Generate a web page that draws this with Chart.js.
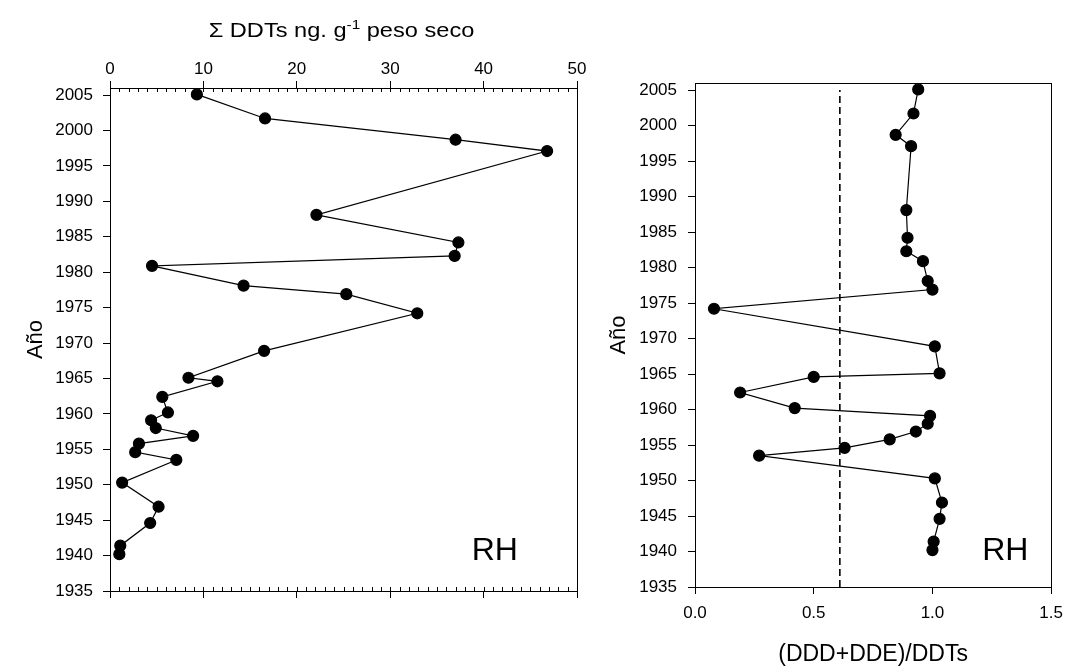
<!DOCTYPE html>
<html>
<head>
<meta charset="utf-8">
<script src="https://cdn.jsdelivr.net/npm/chart.js@4.4.1/dist/chart.umd.min.js"></script>
<style>
body{margin:0;background:#fff;}
#wrap{position:relative;width:1072px;height:666px;}
canvas{position:absolute;top:0;}
</style>
</head>
<body>
<div id="wrap">
<canvas id="ddt_canvas" width="600" height="666" style="left:0px"></canvas>
<canvas id="ratio_canvas" width="472" height="666" style="left:600px"></canvas>
</div>
<script>
// core dates (shared by both panels)
var years = [2005.1, 2001.7, 1998.7, 1997.1, 1988.1, 1984.2, 1982.3, 1980.9, 1978.1, 1976.9,
	1974.2, 1968.9, 1965.1, 1964.6, 1962.4, 1960.2, 1959.1, 1958.0, 1956.9, 1955.8,
	1954.6, 1953.5, 1950.3, 1946.9, 1944.6, 1941.4, 1940.2];
// sum of DDTs, ng/g dry weight
var sum_ddts = [9.3, 16.6, 37.0, 46.8, 22.1, 37.3, 36.9, 4.5, 14.3, 25.3,
	32.9, 16.5, 8.4, 11.5, 5.6, 6.2, 4.4, 4.9, 8.9, 3.1,
	2.7, 7.1, 1.3, 5.2, 4.3, 1.1, 1.0];
// (DDD+DDE)/DDTs
var ddd_dde_ratio = [0.94, 0.92, 0.845, 0.91, 0.89, 0.895, 0.89, 0.96, 0.98, 1.00,
	0.08, 1.01, 1.03, 0.50, 0.19, 0.42, 0.99, 0.98, 0.93, 0.82,
	0.63, 0.27, 1.01, 1.04, 1.03, 1.005, 1.0];
var threshold_x = [0.61, 0.61];
var threshold_y = [1935, 2005];

var year_ticks = [1935, 1940, 1945, 1950, 1955, 1960, 1965, 1970, 1975, 1980, 1985, 1990, 1995, 2000, 2005];
var ddt_ticks = [0, 10, 20, 30, 40, 50];
var ratio_ticks = [0, 0.5, 1, 1.5];

Chart.defaults.font.family = "'Liberation Sans', Arial, sans-serif";
Chart.defaults.color = '#000';

function setTicks(list){
	return function(scale){
		scale.ticks = list.map(function(v){ return {value: v}; });
	};
}
function plainLabel(v){ return String(v); }

var boxPlugin = {
	id: 'box',
	afterDraw: function(chart){
		var a = chart.chartArea, ctx = chart.ctx;
		ctx.save();
		ctx.strokeStyle = '#000';
		ctx.lineWidth = 1;
		ctx.strokeRect(Math.round(a.left) + 0.5, Math.round(a.top) + 0.5, Math.round(a.right - a.left), Math.round(a.bottom - a.top));
		ctx.restore();
	}
};

var siteLabel = {
	id: 'siteLabel',
	afterDraw: function(chart, args, opts){
		var ctx = chart.ctx;
		var px = chart.scales[opts.xAxis].getPixelForValue(opts.x);
		var py = chart.scales.y.getPixelForValue(opts.y);
		ctx.save();
		ctx.fillStyle = '#000';
		ctx.font = "32px 'Liberation Sans', Arial, sans-serif";
		ctx.textAlign = 'center';
		ctx.textBaseline = 'middle';
		ctx.fillText(opts.text, px, py);
		ctx.restore();
	}
};

var minorTicks = {
	id: 'minorTicks',
	afterDraw: function(chart){
		var ctx = chart.ctx, a = chart.chartArea, sx = chart.scales.x;
		ctx.save();
		ctx.strokeStyle = '#000';
		ctx.lineWidth = 1;
		ctx.beginPath();
		for(var v = sx.min; v <= sx.max; v++){
			var px = Math.round(sx.getPixelForValue(v)) + 0.5;
			ctx.moveTo(px, a.top);
			ctx.lineTo(px, a.top + 4);
			ctx.moveTo(px, a.bottom);
			ctx.lineTo(px, a.bottom - 4);
		}
		ctx.stroke();
		ctx.restore();
	}
};

var topTitle = {
	id: 'topTitle',
	afterDraw: function(chart){
		var ctx = chart.ctx, a = chart.chartArea;
		var main = "'Liberation Sans', Arial, sans-serif";
		var p1 = 'Σ DDTs ng. g', sup = '-1', p2 = ' peso seco';
		ctx.save();
		ctx.fillStyle = '#000';
		ctx.textBaseline = 'alphabetic';
		ctx.textAlign = 'left';
		ctx.font = '20px ' + main;
		var w1 = ctx.measureText(p1).width, w3 = ctx.measureText(p2).width;
		ctx.font = '13px ' + main;
		var w2 = ctx.measureText(sup).width;
		var sx = 1.18;
		var cx = (a.left + a.right) / 2 - 2;
		ctx.translate(cx, 37);
		ctx.scale(sx, 1);
		var x0 = -(w1 + w2 + w3) / 2;
		ctx.font = '20px ' + main;
		ctx.fillText(p1, x0, 0);
		ctx.font = '13px ' + main;
		ctx.fillText(sup, x0 + w1, -8);
		ctx.font = '20px ' + main;
		ctx.fillText(p2, x0 + w1 + w2, 0);
		ctx.restore();
	}
};

var tickFont = {size: 17};
var axisGrid = {drawOnChartArea: false, tickLength: 7, color: '#000', lineWidth: 1};
var axisBorder = {color: '#000', width: 1};

var ddt_chart = new Chart(document.getElementById('ddt_canvas'), {
	type: 'scatter',
	data: {
		datasets: [{
			label: 'Σ DDTs',
			data: years.map(function(y, i){ return {x: sum_ddts[i], y: y}; }),
			showLine: true,
			borderColor: '#000',
			borderWidth: 1.2,
			pointRadius: 5.5,
			pointHoverRadius: 5.5,
			pointBackgroundColor: '#000',
			pointBorderColor: '#000',
			xAxisID: 'x',
			yAxisID: 'y'
		}]
	},
	options: {
		responsive: false,
		animation: false,
		events: [],
		layout: {padding: {top: 0, right: 23, bottom: 0, left: 0}},
		plugins: {
			legend: {display: false},
			tooltip: {enabled: false},
			siteLabel: {text: 'RH', xAxis: 'x', x: 41.2, y: 1940.6}
		},
		scales: {
			x: {
				type: 'linear', position: 'top', min: 0, max: 50,
				afterBuildTicks: setTicks(ddt_ticks),
				afterFit: function(s){ s.height = 88; },
				ticks: {padding: 1, font: tickFont, color: '#000', callback: plainLabel},
				grid: axisGrid, border: axisBorder
			},
			x2: {
				type: 'linear', position: 'bottom', min: 0, max: 50,
				afterBuildTicks: setTicks(ddt_ticks),
				afterFit: function(s){ s.height = 75; },
				ticks: {display: false},
				grid: axisGrid, border: axisBorder
			},
			y: {
				type: 'linear', position: 'left', min: 1935, max: 2006,
				afterBuildTicks: setTicks(year_ticks),
				afterFit: function(s){ s.width = 110; },
				ticks: {padding: 10, font: tickFont, color: '#000', callback: plainLabel},
				grid: axisGrid, border: axisBorder,
				title: {display: true, text: 'Año', color: '#000', font: {size: 22, lineHeight: 1}, padding: {top: 25, bottom: 0}}
			}
		}
	},
	plugins: [boxPlugin, minorTicks, topTitle, siteLabel]
});

var ratio_chart = new Chart(document.getElementById('ratio_canvas'), {
	type: 'scatter',
	data: {
		datasets: [{
			label: '(DDD+DDE)/DDTs',
			data: years.map(function(y, i){ return {x: ddd_dde_ratio[i], y: y}; }),
			showLine: true,
			borderColor: '#000',
			borderWidth: 1.2,
			pointRadius: 5.5,
			pointHoverRadius: 5.5,
			pointBackgroundColor: '#000',
			pointBorderColor: '#000'
		}, {
			label: 'umbral',
			data: threshold_y.map(function(y, i){ return {x: threshold_x[i], y: y}; }),
			showLine: true,
			borderColor: '#000',
			borderWidth: 1.6,
			borderDash: [7, 4],
			pointRadius: 0,
			pointHoverRadius: 0
		}]
	},
	options: {
		responsive: false,
		animation: false,
		events: [],
		layout: {padding: {top: 83, right: 16, bottom: 0, left: 0}},
		plugins: {
			legend: {display: false},
			tooltip: {enabled: false},
			siteLabel: {text: 'RH', xAxis: 'x', x: 1.307, y: 1940.0}
		},
		scales: {
			x: {
				type: 'linear', position: 'bottom', min: 0, max: 1.5,
				afterBuildTicks: setTicks(ratio_ticks),
				afterFit: function(s){ s.height = 79; },
				ticks: {padding: 9, font: tickFont, color: '#000', callback: function(v){ return Number(v).toFixed(1); }},
				grid: axisGrid, border: axisBorder,
				title: {display: true, text: '(DDD+DDE)/DDTs', color: '#000', font: {size: 23, lineHeight: 1}, padding: {top: 0, bottom: 0}}
			},
			y: {
				type: 'linear', position: 'left', min: 1935, max: 2006,
				afterBuildTicks: setTicks(year_ticks),
				afterFit: function(s){ s.width = 95; },
				ticks: {padding: 11, font: tickFont, color: '#000', callback: plainLabel},
				grid: axisGrid, border: axisBorder,
				title: {display: true, text: 'Año', color: '#000', font: {size: 22, lineHeight: 1}, padding: {top: 8, bottom: 0}}
			}
		}
	},
	plugins: [boxPlugin, siteLabel]
});
</script>
</body>
</html>
